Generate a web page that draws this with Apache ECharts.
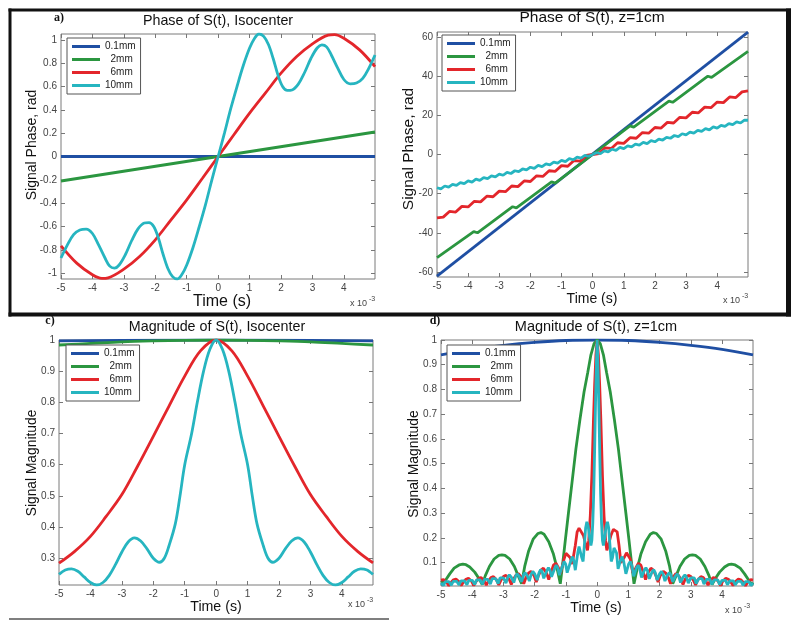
<!DOCTYPE html>
<html>
<head>
<meta charset="utf-8">
<title>Phase and magnitude of S(t)</title>
<script src="https://cdn.jsdelivr.net/npm/echarts@6/dist/echarts.min.js"></script>
<style>
html,body{margin:0;padding:0;background:#fff;}
#chart{width:800px;height:628px;}
</style>
</head>
<body>
<div id="chart"></div>
<script>
var seriesNames = ['0.1mm', '2mm', '6mm', '10mm'];
var timeTicks = [-5, -4, -3, -2, -1, 0, 1, 2, 3, 4];
var phaseIsoTicks = [-1, -0.8, -0.6, -0.4, -0.2, 0, 0.2, 0.4, 0.6, 0.8, 1];
var phaseZTicks = [-60, -40, -20, 0, 20, 40, 60];
var magIsoTicks = [0.3, 0.4, 0.5, 0.6, 0.7, 0.8, 0.9, 1];
var magZTicks = [0.1, 0.2, 0.3, 0.4, 0.5, 0.6, 0.7, 0.8, 0.9, 1];

// a) phase at isocenter, [time (x1e-3 s), rad]
var phaseIso01 = [[-5, 0], [4.99, 0]];
var phaseIso2 = [[-5, -0.21], [0, 0], [4.99, 0.21]];
var phaseIso6 = [[-5, -0.766], [-4.5, -0.914], [-4, -1.014], [-3.7, -1.045], [-3.5, -1.04], [-3, -0.966], [-2.5, -0.857], [-2, -0.714], [-1.5, -0.543], [-1, -0.371], [-0.5, -0.186], [0, 0], [0.5, 0.186], [1, 0.371], [1.5, 0.543], [2, 0.714], [2.5, 0.857], [3, 0.966], [3.5, 1.04], [3.7, 1.045], [4, 1.014], [4.5, 0.914], [4.99, 0.77]];
var phaseIso10 = [[-5, -0.87], [-4.8, -0.76], [-4.6, -0.67], [-4.4, -0.63], [-4.2, -0.623], [-4, -0.66], [-3.8, -0.76], [-3.6, -0.87], [-3.45, -0.94], [-3.3, -0.957], [-3.15, -0.93], [-2.95, -0.84], [-2.75, -0.72], [-2.55, -0.62], [-2.35, -0.57], [-2.2, -0.566], [-2.05, -0.6], [-1.9, -0.7], [-1.75, -0.84], [-1.6, -0.96], [-1.45, -1.03], [-1.3, -1.05], [-1.15, -1.01], [-1, -0.93], [-0.8, -0.78], [-0.6, -0.6], [-0.4, -0.41], [-0.2, -0.2], [0, 0], [0.2, 0.2], [0.4, 0.41], [0.6, 0.6], [0.8, 0.78], [1, 0.93], [1.15, 1.01], [1.3, 1.05], [1.45, 1.03], [1.6, 0.96], [1.75, 0.84], [1.9, 0.7], [2.05, 0.6], [2.2, 0.566], [2.35, 0.57], [2.55, 0.62], [2.75, 0.72], [2.95, 0.84], [3.15, 0.93], [3.3, 0.957], [3.45, 0.94], [3.6, 0.87], [3.8, 0.76], [4, 0.66], [4.2, 0.623], [4.4, 0.63], [4.6, 0.67], [4.8, 0.76], [4.99, 0.87]];

// b) phase at z=1cm
var phaseZ01 = [[-5, -62.2], [4.99, 62.5]];
var phaseZ2 = [[-5, -52.7], [-3.82, -39.4], [-3.7, -40.0], [-2.57, -26.7], [-2.45, -27.3], [-1.32, -14.0], [-1.2, -14.6], [0, 0], [1.2, 14.6], [1.32, 14.0], [2.45, 27.3], [2.57, 26.7], [3.7, 40.0], [3.82, 39.4], [4.99, 52.7]];
var phaseZ6 = [[-5, -32.4], [-4.8, -32.0], [-4.6, -29.1], [-4.4, -29.4], [-4.2, -26.5], [-4, -26.8], [-3.8, -23.9], [-3.6, -24.2], [-3.4, -21.3], [-3.2, -21.6], [-3, -18.7], [-2.8, -19.0], [-2.6, -16.1], [-2.4, -16.4], [-2.2, -13.5], [-2, -13.8], [-1.8, -10.9], [-1.6, -11.2], [-1.4, -8.3], [-1.2, -8.6], [-1, -5.7], [-0.8, -6.0], [-0.6, -3.1], [-0.4, -3.4], [-0.2, -0.5], [0, 0], [0.2, 0.5], [0.4, 3.4], [0.6, 3.1], [0.8, 6.0], [1, 5.7], [1.2, 8.6], [1.4, 8.3], [1.6, 11.2], [1.8, 10.9], [2, 13.8], [2.2, 13.5], [2.4, 16.4], [2.6, 16.1], [2.8, 19.0], [3, 18.7], [3.2, 21.6], [3.4, 21.3], [3.6, 24.2], [3.8, 23.9], [4, 26.8], [4.2, 26.5], [4.4, 29.4], [4.6, 29.1], [4.8, 32.0], [4.99, 32.5]];
var phaseZ10 = [[-5, -17.0], [-4.875, -17.6], [-4.75, -16.1], [-4.625, -16.7], [-4.5, -15.3], [-4.375, -15.8], [-4.25, -14.4], [-4.125, -14.9], [-4, -13.5], [-3.875, -14.1], [-3.75, -12.6], [-3.625, -13.2], [-3.5, -11.8], [-3.375, -12.3], [-3.25, -10.9], [-3.125, -11.4], [-3, -10.0], [-2.875, -10.6], [-2.75, -9.1], [-2.625, -9.7], [-2.5, -8.3], [-2.375, -8.8], [-2.25, -7.4], [-2.125, -7.9], [-2, -6.5], [-1.875, -7.1], [-1.75, -5.6], [-1.625, -6.2], [-1.5, -4.8], [-1.375, -5.3], [-1.25, -3.9], [-1.125, -4.4], [-1, -3.0], [-0.875, -3.6], [-0.75, -2.1], [-0.625, -2.7], [-0.5, -1.3], [-0.375, -1.8], [-0.25, -0.4], [-0.125, -0.9], [0, 0], [0.125, 0.9], [0.25, 0.4], [0.375, 1.8], [0.5, 1.3], [0.625, 2.7], [0.75, 2.1], [0.875, 3.6], [1, 3.0], [1.125, 4.4], [1.25, 3.9], [1.375, 5.3], [1.5, 4.8], [1.625, 6.2], [1.75, 5.6], [1.875, 7.1], [2, 6.5], [2.125, 7.9], [2.25, 7.4], [2.375, 8.8], [2.5, 8.3], [2.625, 9.7], [2.75, 9.1], [2.875, 10.6], [3, 10.0], [3.125, 11.4], [3.25, 10.9], [3.375, 12.3], [3.5, 11.8], [3.625, 13.2], [3.75, 12.6], [3.875, 14.1], [4, 13.5], [4.125, 14.9], [4.25, 14.4], [4.375, 15.8], [4.5, 15.3], [4.625, 16.7], [4.75, 16.1], [4.875, 17.6], [4.99, 17.5]];

// c) magnitude at isocenter
var magIso01 = [[-5, 0.997], [0, 1], [4.99, 0.997]];
var magIso2 = [[-5, 0.984], [-4, 0.989], [-3, 0.994], [-2, 0.997], [-1, 0.999], [0, 1], [1, 0.999], [2, 0.997], [3, 0.994], [4, 0.989], [4.99, 0.984]];
var magIso6 = [[-5, 0.284], [-4.5, 0.322], [-4, 0.37], [-3.5, 0.434], [-3, 0.504], [-2.5, 0.595], [-2, 0.691], [-1.5, 0.788], [-1, 0.884], [-0.5, 0.965], [0, 1], [0.5, 0.965], [1, 0.884], [1.5, 0.788], [2, 0.691], [2.5, 0.595], [3, 0.504], [3.5, 0.434], [4, 0.37], [4.5, 0.322], [4.99, 0.285]];
var magIso10 = [[-5, 0.248], [-4.8, 0.262], [-4.6, 0.266], [-4.4, 0.258], [-4.2, 0.24], [-4, 0.222], [-3.8, 0.214], [-3.6, 0.222], [-3.4, 0.245], [-3.2, 0.28], [-3, 0.32], [-2.8, 0.352], [-2.6, 0.365], [-2.4, 0.355], [-2.2, 0.33], [-2, 0.3], [-1.8, 0.287], [-1.65, 0.3], [-1.5, 0.34], [-1.3, 0.41], [-1.15, 0.5], [-1, 0.6], [-0.78, 0.7], [-0.6, 0.8], [-0.4, 0.9], [-0.2, 0.97], [0, 1], [0.2, 0.97], [0.4, 0.9], [0.6, 0.8], [0.78, 0.7], [1, 0.6], [1.15, 0.5], [1.3, 0.41], [1.5, 0.34], [1.65, 0.3], [1.8, 0.287], [2, 0.3], [2.2, 0.33], [2.4, 0.355], [2.6, 0.365], [2.8, 0.352], [3, 0.32], [3.2, 0.28], [3.4, 0.245], [3.6, 0.222], [3.8, 0.214], [4, 0.222], [4.2, 0.24], [4.4, 0.258], [4.6, 0.266], [4.8, 0.262], [4.99, 0.248]];

// d) magnitude at z=1cm
var magZ01 = [[-5, 0.94], [-4, 0.962], [-3, 0.978], [-2, 0.99], [-1, 0.998], [0, 1], [1, 0.998], [2, 0.99], [3, 0.978], [4, 0.962], [4.99, 0.94]];
var magZ2 = [[-5, 0.02], [-4.95, 0.012], [-4.85, 0.03], [-4.72, 0.055], [-4.58, 0.078], [-4.42, 0.091], [-4.3, 0.094], [-4.2, 0.092], [-4.08, 0.083], [-3.92, 0.062], [-3.78, 0.035], [-3.68, 0.012], [-3.58, 0.048], [-3.45, 0.085], [-3.3, 0.115], [-3.15, 0.13], [-3.05, 0.132], [-2.95, 0.13], [-2.8, 0.115], [-2.65, 0.085], [-2.52, 0.045], [-2.42, 0.015], [-2.32, 0.085], [-2.2, 0.145], [-2.05, 0.195], [-1.9, 0.218], [-1.8, 0.222], [-1.7, 0.215], [-1.55, 0.185], [-1.4, 0.135], [-1.28, 0.075], [-1.18, 0.015], [-1.1, 0.1], [-1.02, 0.19], [-0.92, 0.3], [-0.8, 0.43], [-0.68, 0.56], [-0.55, 0.68], [-0.42, 0.79], [-0.3, 0.87], [-0.2, 0.94], [-0.1, 0.985], [0, 1], [0.1, 0.985], [0.2, 0.94], [0.3, 0.87], [0.42, 0.79], [0.55, 0.68], [0.68, 0.56], [0.8, 0.43], [0.92, 0.3], [1.02, 0.19], [1.1, 0.1], [1.18, 0.015], [1.28, 0.075], [1.4, 0.135], [1.55, 0.185], [1.7, 0.215], [1.8, 0.222], [1.9, 0.218], [2.05, 0.195], [2.2, 0.145], [2.32, 0.085], [2.42, 0.015], [2.52, 0.045], [2.65, 0.085], [2.8, 0.115], [2.95, 0.13], [3.05, 0.132], [3.15, 0.13], [3.3, 0.115], [3.45, 0.085], [3.58, 0.048], [3.68, 0.012], [3.78, 0.035], [3.92, 0.062], [4.08, 0.083], [4.2, 0.092], [4.3, 0.094], [4.42, 0.091], [4.58, 0.078], [4.72, 0.055], [4.85, 0.03], [4.95, 0.012], [4.99, 0.02]];
var magZ6 = [[-5, 0.03], [-4.92, 0.032], [-4.82, 0.021], [-4.75, 0.007], [-4.68, 0.02], [-4.6, 0.031], [-4.52, 0.034], [-4.42, 0.023], [-4.35, 0.008], [-4.28, 0.022], [-4.2, 0.033], [-4.12, 0.037], [-4.02, 0.025], [-3.95, 0.008], [-3.88, 0.024], [-3.8, 0.036], [-3.72, 0.04], [-3.62, 0.027], [-3.55, 0.009], [-3.48, 0.027], [-3.4, 0.04], [-3.32, 0.044], [-3.22, 0.03], [-3.15, 0.01], [-3.08, 0.03], [-3, 0.044], [-2.92, 0.049], [-2.82, 0.034], [-2.75, 0.012], [-2.68, 0.033], [-2.6, 0.05], [-2.52, 0.056], [-2.42, 0.04], [-2.35, 0.015], [-2.28, 0.04], [-2.2, 0.058], [-2.12, 0.065], [-2.02, 0.048], [-1.95, 0.022], [-1.88, 0.048], [-1.8, 0.07], [-1.72, 0.078], [-1.62, 0.058], [-1.55, 0.032], [-1.48, 0.06], [-1.4, 0.09], [-1.32, 0.098], [-1.24, 0.08], [-1.18, 0.055], [-1.14, 0.06], [-1.06, 0.115], [-1, 0.138], [-0.94, 0.14], [-0.86, 0.12], [-0.8, 0.095], [-0.76, 0.1], [-0.7, 0.17], [-0.64, 0.225], [-0.58, 0.24], [-0.52, 0.235], [-0.44, 0.21], [-0.36, 0.17], [-0.31, 0.15], [-0.27, 0.19], [-0.22, 0.29], [-0.17, 0.45], [-0.12, 0.67], [-0.08, 0.82], [-0.04, 0.94], [0, 1], [0.04, 0.94], [0.08, 0.82], [0.12, 0.67], [0.17, 0.45], [0.22, 0.29], [0.27, 0.19], [0.31, 0.15], [0.36, 0.17], [0.44, 0.21], [0.52, 0.235], [0.58, 0.24], [0.64, 0.225], [0.7, 0.17], [0.76, 0.1], [0.8, 0.095], [0.86, 0.12], [0.94, 0.14], [1, 0.138], [1.06, 0.115], [1.14, 0.06], [1.18, 0.055], [1.24, 0.08], [1.32, 0.098], [1.4, 0.09], [1.48, 0.06], [1.55, 0.032], [1.62, 0.058], [1.72, 0.078], [1.8, 0.07], [1.88, 0.048], [1.95, 0.022], [2.02, 0.048], [2.12, 0.065], [2.2, 0.058], [2.28, 0.04], [2.35, 0.015], [2.42, 0.04], [2.52, 0.056], [2.6, 0.05], [2.68, 0.033], [2.75, 0.012], [2.82, 0.034], [2.92, 0.049], [3, 0.044], [3.08, 0.03], [3.15, 0.01], [3.22, 0.03], [3.32, 0.044], [3.4, 0.04], [3.48, 0.027], [3.55, 0.009], [3.62, 0.027], [3.72, 0.04], [3.8, 0.036], [3.88, 0.024], [3.95, 0.008], [4.02, 0.025], [4.12, 0.037], [4.2, 0.033], [4.28, 0.022], [4.35, 0.008], [4.42, 0.023], [4.52, 0.034], [4.6, 0.031], [4.68, 0.02], [4.75, 0.007], [4.82, 0.021], [4.92, 0.032], [4.99, 0.03]];
var magZ10 = [[-5, 0.018], [-4.92, 0.008], [-4.86, 0.024], [-4.81, 0.03], [-4.75, 0.024], [-4.67, 0.009], [-4.61, 0.025], [-4.56, 0.032], [-4.5, 0.025], [-4.42, 0.01], [-4.36, 0.027], [-4.31, 0.034], [-4.25, 0.027], [-4.17, 0.011], [-4.11, 0.029], [-4.06, 0.036], [-4, 0.029], [-3.92, 0.012], [-3.86, 0.031], [-3.81, 0.038], [-3.75, 0.031], [-3.67, 0.013], [-3.61, 0.033], [-3.56, 0.041], [-3.5, 0.033], [-3.42, 0.014], [-3.36, 0.036], [-3.31, 0.044], [-3.25, 0.036], [-3.17, 0.016], [-3.11, 0.039], [-3.06, 0.047], [-3, 0.039], [-2.92, 0.018], [-2.86, 0.042], [-2.81, 0.051], [-2.75, 0.042], [-2.67, 0.02], [-2.61, 0.046], [-2.56, 0.055], [-2.5, 0.046], [-2.42, 0.023], [-2.36, 0.05], [-2.31, 0.06], [-2.25, 0.05], [-2.17, 0.026], [-2.11, 0.055], [-2.06, 0.065], [-2, 0.055], [-1.92, 0.03], [-1.86, 0.06], [-1.81, 0.072], [-1.76, 0.063], [-1.71, 0.037], [-1.67, 0.035], [-1.61, 0.068], [-1.56, 0.08], [-1.51, 0.07], [-1.46, 0.043], [-1.42, 0.04], [-1.36, 0.077], [-1.31, 0.09], [-1.26, 0.08], [-1.21, 0.05], [-1.17, 0.045], [-1.11, 0.088], [-1.06, 0.105], [-1.01, 0.095], [-0.96, 0.06], [-0.92, 0.055], [-0.85, 0.105], [-0.8, 0.125], [-0.75, 0.11], [-0.7, 0.07], [-0.67, 0.075], [-0.62, 0.14], [-0.58, 0.165], [-0.54, 0.16], [-0.49, 0.12], [-0.45, 0.105], [-0.41, 0.17], [-0.37, 0.24], [-0.33, 0.265], [-0.29, 0.25], [-0.24, 0.2], [-0.2, 0.17], [-0.17, 0.19], [-0.14, 0.26], [-0.11, 0.38], [-0.08, 0.56], [-0.05, 0.76], [-0.02, 0.93], [0, 1], [0.02, 0.93], [0.05, 0.76], [0.08, 0.56], [0.11, 0.38], [0.14, 0.26], [0.17, 0.19], [0.2, 0.17], [0.24, 0.2], [0.29, 0.25], [0.33, 0.265], [0.37, 0.24], [0.41, 0.17], [0.45, 0.105], [0.49, 0.12], [0.54, 0.16], [0.58, 0.165], [0.62, 0.14], [0.67, 0.075], [0.7, 0.07], [0.75, 0.11], [0.8, 0.125], [0.85, 0.105], [0.92, 0.055], [0.96, 0.06], [1.01, 0.095], [1.06, 0.105], [1.11, 0.088], [1.17, 0.045], [1.21, 0.05], [1.26, 0.08], [1.31, 0.09], [1.36, 0.077], [1.42, 0.04], [1.46, 0.043], [1.51, 0.07], [1.56, 0.08], [1.61, 0.068], [1.67, 0.035], [1.71, 0.037], [1.76, 0.063], [1.81, 0.072], [1.86, 0.06], [1.92, 0.03], [2, 0.055], [2.06, 0.065], [2.11, 0.055], [2.17, 0.026], [2.25, 0.05], [2.31, 0.06], [2.36, 0.05], [2.42, 0.023], [2.5, 0.046], [2.56, 0.055], [2.61, 0.046], [2.67, 0.02], [2.75, 0.042], [2.81, 0.051], [2.86, 0.042], [2.92, 0.018], [3, 0.039], [3.06, 0.047], [3.11, 0.039], [3.17, 0.016], [3.25, 0.036], [3.31, 0.044], [3.36, 0.036], [3.42, 0.014], [3.5, 0.033], [3.56, 0.041], [3.61, 0.033], [3.67, 0.013], [3.75, 0.031], [3.81, 0.038], [3.86, 0.031], [3.92, 0.012], [4, 0.029], [4.06, 0.036], [4.11, 0.029], [4.17, 0.011], [4.25, 0.027], [4.31, 0.034], [4.36, 0.027], [4.42, 0.01], [4.5, 0.025], [4.56, 0.032], [4.61, 0.025], [4.67, 0.009], [4.75, 0.024], [4.81, 0.03], [4.86, 0.024], [4.92, 0.008], [4.99, 0.018]];

var FONT = '"Liberation Sans", Arial, Helvetica, sans-serif';
var colors = ['#1f4fa3', '#2b9640', '#e3262b', '#26b5c0'];
var legendLabels = {'0.1mm': '0.1mm', '2mm': '  2mm', '6mm': '  6mm', '10mm': '10mm'};

var panels = [
  {left: 61, top: 34, width: 314, height: 245, yMin: -1.05, yMax: 1.05, yTicks: phaseIsoTicks,
    lines: [phaseIso01, phaseIso2, phaseIso6, phaseIso10], smooth: [false, false, true, true], legend: [67, 38]},
  {left: 437, top: 32, width: 311, height: 245, yMin: -62.6, yMax: 62.6, yTicks: phaseZTicks,
    lines: [phaseZ01, phaseZ2, phaseZ6, phaseZ10], smooth: [false, false, false, false], legend: [442, 35]},
  {left: 59, top: 340, width: 314, height: 245, yMin: 0.214, yMax: 1, yTicks: magIsoTicks,
    lines: [magIso01, magIso2, magIso6, magIso10], smooth: [true, true, true, true], legend: [66, 345]},
  {left: 441, top: 340, width: 312, height: 246, yMin: 0.006, yMax: 1, yTicks: magZTicks,
    lines: [magZ01, magZ2, magZ6, magZ10], smooth: [true, false, false, false], legend: [447, 345]}
];

function makeAxis(gridIndex, position, min, max, ticks, showLabel){
  return {
    type: 'value', gridIndex: gridIndex, position: position, min: min, max: max,
    axisLine: {show: false, onZero: false},
    axisTick: {show: true, inside: true, length: 4, customValues: ticks, lineStyle: {color: '#777', width: 1}},
    axisLabel: {show: showLabel, customValues: ticks, fontSize: 10, color: '#444', margin: 4, fontFamily: FONT},
    splitLine: {show: false}
  };
}

function txt(x, y, s, font, extra){
  var el = {type: 'text', x: x, y: y, z: 100, style: {text: s, font: font, fill: '#111', textAlign: 'center', textVerticalAlign: 'middle'}};
  if(extra){
    for(var k in extra){ el[k] = extra[k]; }
  }
  return el;
}

var option = {
  animation: false,
  backgroundColor: '#fff',
  textStyle: {fontFamily: FONT},
  grid: [], xAxis: [], yAxis: [], legend: [], series: [], graphic: []
};

panels.forEach(function(p, i){
  option.grid.push({left: p.left, top: p.top, width: p.width, height: p.height, show: true,
    borderColor: '#7a7a7a', borderWidth: 1, backgroundColor: '#fff', containLabel: false, outerBoundsMode: 'none'});
  option.xAxis.push(makeAxis(i, 'bottom', -5, 4.99, timeTicks, true));
  option.xAxis.push(makeAxis(i, 'top', -5, 4.99, timeTicks, false));
  option.yAxis.push(makeAxis(i, 'left', p.yMin, p.yMax, p.yTicks, true));
  option.yAxis.push(makeAxis(i, 'right', p.yMin, p.yMax, p.yTicks, false));
  option.legend.push({
    left: p.legend[0], top: p.legend[1], orient: 'vertical', data: seriesNames,
    icon: 'rect', itemWidth: 28, itemHeight: 3, itemGap: 2, padding: [3, 5, 3, 5],
    borderColor: '#555', borderWidth: 1, backgroundColor: '#fff', selectedMode: false,
    textStyle: {fontSize: 10, color: '#222', fontFamily: FONT, lineHeight: 11},
    formatter: function(name){ return legendLabels[name]; }
  });
  p.lines.forEach(function(d, j){
    option.series.push({
      name: seriesNames[j], type: 'line', xAxisIndex: 2 * i, yAxisIndex: 2 * i,
      data: d, showSymbol: false, smooth: p.smooth[j] ? 0.35 : false, clip: true,
      color: colors[j], itemStyle: {color: colors[j]},
      lineStyle: {color: colors[j], width: 2.8}
    });
  });
});

var g = option.graphic;
// frame round the top two panels
g.push({type: 'rect', z: 100, shape: {x: 8.5, y: 8.5, width: 782.5, height: 3}, style: {fill: '#111'}});
g.push({type: 'rect', z: 100, shape: {x: 8.5, y: 8.5, width: 3, height: 308}, style: {fill: '#111'}});
g.push({type: 'rect', z: 100, shape: {x: 786, y: 8.5, width: 5, height: 308}, style: {fill: '#111'}});
g.push({type: 'rect', z: 100, shape: {x: 8.5, y: 312.5, width: 782.5, height: 4}, style: {fill: '#111'}});
g.push({type: 'line', z: 100, shape: {x1: 9, y1: 619, x2: 389, y2: 619}, style: {stroke: '#555', lineWidth: 1.5}});

// panel letters
var letterFont = 'bold 12px "Liberation Serif", "Times New Roman", serif';
g.push(txt(59, 18, 'a)', letterFont));
g.push(txt(50, 321, 'c)', letterFont));
g.push(txt(435, 321, 'd)', letterFont));

// titles
g.push(txt(218, 21, 'Phase of S(t), Isocenter', '14.3px ' + FONT));
g.push(txt(592, 18, 'Phase of S(t), z=1cm', '15.5px ' + FONT));
g.push(txt(217, 327, 'Magnitude of S(t), Isocenter', '14.3px ' + FONT));
g.push(txt(596, 327, 'Magnitude of S(t), z=1cm', '14.5px ' + FONT));

// axis names
g.push(txt(222, 302, 'Time (s)', '16px ' + FONT));
g.push(txt(592, 299, 'Time (s)', '14px ' + FONT));
g.push(txt(216, 607, 'Time (s)', '14.2px ' + FONT));
g.push(txt(596, 608, 'Time (s)', '14.2px ' + FONT));
g.push(txt(32, 145, 'Signal Phase, rad', '14px ' + FONT, {rotation: Math.PI / 2}));
g.push(txt(409, 149, 'Signal Phase, rad', '15.5px ' + FONT, {rotation: Math.PI / 2}));
g.push(txt(32, 463, 'Signal Magnitude', '13.8px ' + FONT, {rotation: Math.PI / 2}));
g.push(txt(414, 464, 'Signal Magnitude', '13.9px ' + FONT, {rotation: Math.PI / 2}));

// x 10^-3 multipliers
[[350, 304], [723, 301], [348, 605], [725, 611]].forEach(function(pt){
  var a = txt(pt[0], pt[1], 'x 10', '9px ' + FONT);
  a.style.textAlign = 'left';
  a.style.fill = '#444';
  var b = txt(pt[0] + 19, pt[1] - 5, '-3', '7px ' + FONT);
  b.style.textAlign = 'left';
  b.style.fill = '#444';
  g.push(a, b);
});

var chart = echarts.init(document.getElementById('chart'), null, {renderer: 'canvas'});
chart.setOption(option);
</script>
</body>
</html>
